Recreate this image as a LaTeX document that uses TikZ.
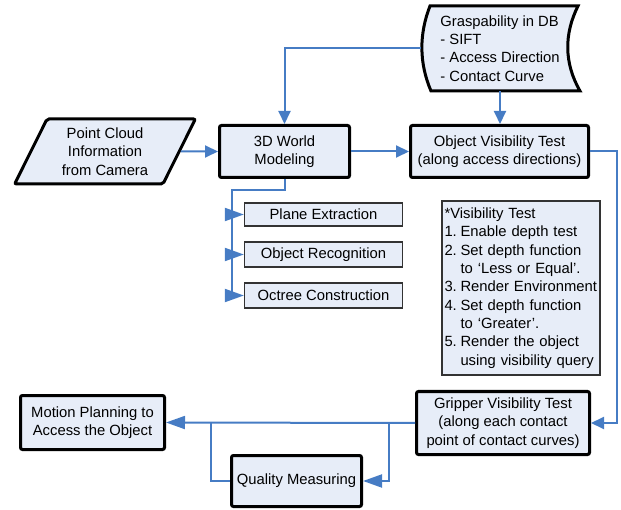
\documentclass[tikz,border=0pt]{standalone}
\usepackage{fontspec}
\setmainfont{Liberation Sans}
\usetikzlibrary{shapes.geometric,arrows.meta}
\definecolor{boxfill}{RGB}{231,237,248}
\definecolor{lineblue}{RGB}{70,124,196}
\begin{document}
\begin{tikzpicture}[x=1pt,y=-1pt,
 every node/.style={font=\fontsize{14.8}{18.3}\selectfont},
 mainbox/.style={draw=black,line width=3pt,fill=boxfill,rounded corners=2pt,align=center,inner sep=0pt},
 subbox/.style={draw=black!80,line width=1.3pt,fill=boxfill,align=center,inner sep=0pt,minimum width=158pt,minimum height=23pt},
 notebox/.style={draw=black!80,line width=1.3pt,fill=boxfill,align=left,inner xsep=2.5pt,text width=153pt,minimum height=174pt},
 conn/.style={draw=lineblue,line width=2pt},
 tipS/.style={-{Triangle[length=13pt,width=12pt]}},
 tipL/.style={-{Triangle[length=19pt,width=13pt]}},
]
\useasboundingbox (0,0) rectangle (621,510);

% stored-data shape
\draw[draw=black,line width=3pt,fill=boxfill] (430,6) -- (578,6) .. controls (564,34) and (564,63) .. (580,91) -- (431,91) .. controls (419,63) and (419,34) .. (430,6) -- cycle;
\node[align=left,inner sep=0pt,minimum width=158pt,minimum height=85pt] (gr) at (500,48.5) {Graspability in DB\\- SIFT\\- Access Direction\\- Contact Curve};

\node[mainbox,trapezium,trapezium left angle=63,trapezium right angle=117,trapezium stretches=true,minimum width=181pt,minimum height=65pt] (pc) at (105,151.5) {Point Cloud\\Information\\from Camera};
\node[mainbox,minimum width=130pt,minimum height=52pt] (w3d) at (284.5,151.5) {3D World\\Modeling};
\node[mainbox,minimum width=178pt,minimum height=52pt] (ov) at (499.5,151.5) {Object Visibility Test\\(along access directions)};

\node[subbox] (pe) at (323.5,214.5) {Plane Extraction};
\node[subbox,minimum height=25pt] (or) at (323.5,254.5) {Object Recognition};
\node[subbox,minimum height=25pt] (oc) at (323.5,295.5) {Octree Construction};

\node[notebox] (note) at (521,288) {*Visibility Test\\
\makebox[16pt][l]{1.}Enable depth test\\
\makebox[16pt][l]{2.}Set depth function\\
\makebox[16pt][l]{}to `Less or Equal'.\\
\makebox[16pt][l]{3.}Render Environment\\
\makebox[16pt][l]{4.}Set depth function\\
\makebox[16pt][l]{}to `Greater'.\\
\makebox[16pt][l]{5.}Render the object\\
\makebox[16pt][l]{}using visibility query};

\node[mainbox,minimum width=173pt,minimum height=63pt] (gp) at (503,423) {Gripper Visibility Test\\(along each contact\\point of contact curves)};
\node[mainbox,minimum width=144pt,minimum height=54pt] (mp) at (92.5,422.5) {Motion Planning to\\Access the Object};
\node[mainbox,minimum width=130pt,minimum height=51pt] (qm) at (296.5,481) {Quality Measuring};

\coordinate (vx) at (232,190);
\coordinate (rt) at (617,151.5);
\coordinate (br) at (389,423);
\coordinate (bl) at (211,423);

\draw[conn,tipS] (gr.west) -| (w3d.north);
\draw[conn,tipS] (gr.south) -- (gr.south |- ov.north);
\draw[conn,tipS] (pc) -- (w3d);
\draw[conn,tipS] (w3d) -- (ov);
\draw[conn] (w3d.south) |- (vx) -- (vx |- oc.west);
\draw[conn,tipL] (vx |- pe.west) -- (pe.west);
\draw[conn,tipL] (vx |- or.west) -- (or.west);
\draw[conn,tipL] (vx |- oc.west) -- (oc.west);
\draw[conn,tipS] (ov.east) -- (rt) |- (gp.east);
\draw[conn,tipL] (gp.west) -- (mp.east);
\draw[conn,tipL] (br) |- (qm.east);
\draw[conn] (qm.west) -| (bl);
\end{tikzpicture}
\end{document}
